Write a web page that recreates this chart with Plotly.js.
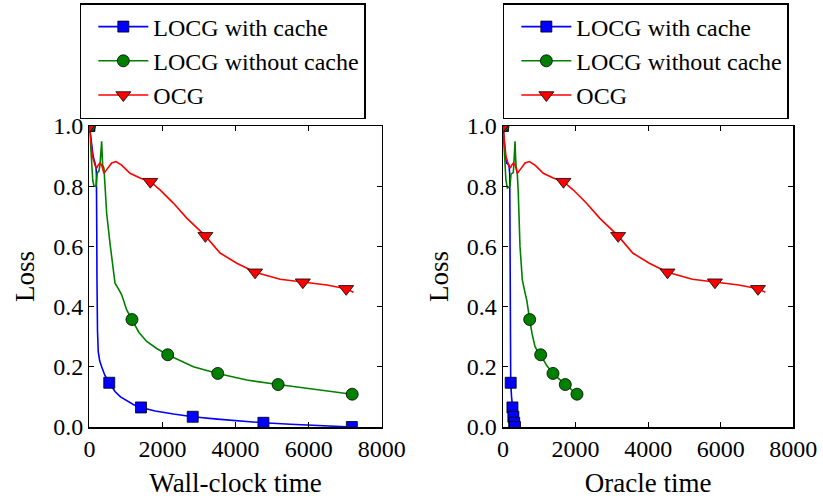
<!DOCTYPE html>
<html>
<head>
<meta charset="utf-8">
<script src="https://cdn.plot.ly/plotly-3.0.1.min.js"></script>
<style>html,body{margin:0;padding:0;background:#fff;}#chart{width:823px;height:500px;}</style>
</head>
<body>
<div id="chart"></div>
<script>
// ---- series names ----
var seriesNames = ['LOCG with cache', 'LOCG without cache', 'OCG'];

// ---- left panel: Wall-clock time ----
var cacheWallX = [0, 60, 100, 150, 180, 190, 195, 200, 205, 210, 220, 241, 280, 334, 420, 542, 700, 850, 1000, 1200, 1411, 1800, 2300, 2827, 3500, 4200, 4762, 5500, 6300, 7183];
var cacheWallY = [1.0, 0.95, 0.90, 0.877, 0.86, 0.84, 0.80, 0.65, 0.50, 0.40, 0.32, 0.25, 0.22, 0.20, 0.172, 0.147, 0.118, 0.10, 0.088, 0.075, 0.065, 0.053, 0.043, 0.034, 0.026, 0.019, 0.014, 0.009, 0.004, 0.0];
var cacheWallMarkX = [0, 542, 1411, 2827, 4762, 7183];
var cacheWallMarkY = [1.0, 0.147, 0.065, 0.034, 0.014, 0.0];

var nocacheWallX = [0, 50, 90, 123, 178, 214, 260, 288, 310, 334, 350, 361, 397, 425, 471, 562, 652, 699, 790, 882, 1019, 1164, 1350, 1567, 1850, 2142, 2500, 2844, 3512, 4307, 5164, 6132, 7192];
var nocacheWallY = [1.0, 0.90, 0.82, 0.80, 0.80, 0.844, 0.85, 0.871, 0.90, 0.949, 0.90, 0.87, 0.86, 0.80, 0.71, 0.61, 0.51, 0.478, 0.46, 0.439, 0.389, 0.357, 0.315, 0.284, 0.26, 0.24, 0.22, 0.20, 0.178, 0.156, 0.141, 0.125, 0.109];
var nocacheWallMarkX = [0, 1164, 2142, 3512, 5164, 7192];
var nocacheWallMarkY = [1.0, 0.357, 0.240, 0.178, 0.141, 0.109];

// ---- OCG (same curve in both panels) ----
var ocgX = [0, 40, 80, 150, 197, 240, 288, 334, 397, 471, 540, 608, 726, 882, 1110, 1384, 1666, 1932, 2296, 2663, 3173, 3575, 4033, 4534, 5219, 5841, 6499, 7027, 7228];
var ocgY = [1.0, 0.95, 0.90, 0.871, 0.86, 0.87, 0.877, 0.87, 0.843, 0.855, 0.868, 0.877, 0.882, 0.87, 0.843, 0.827, 0.815, 0.788, 0.744, 0.694, 0.635, 0.578, 0.544, 0.514, 0.491, 0.481, 0.472, 0.459, 0.448];
var ocgMarkX = [0, 1666, 3173, 4534, 5841, 7027];
var ocgMarkY = [1.0, 0.815, 0.635, 0.514, 0.481, 0.459];

// ---- right panel: Oracle time ----
var cacheOracleX = [0, 55, 100, 165, 185, 190, 195, 200, 205, 212, 235, 260, 285, 308, 330];
var cacheOracleY = [1.0, 0.91, 0.877, 0.87, 0.84, 0.70, 0.50, 0.35, 0.22, 0.147, 0.10, 0.065, 0.034, 0.014, 0.0];
var cacheOracleMarkX = [0, 212, 260, 285, 308, 330];
var cacheOracleMarkY = [1.0, 0.147, 0.065, 0.034, 0.014, 0.0];

var nocacheOracleX = [0, 45, 80, 119, 193, 220, 284, 310, 331, 345, 358, 394, 420, 468, 532, 600, 653, 735, 800, 882, 960, 1038, 1200, 1377, 1550, 1716, 1880, 2039];
var nocacheOracleY = [1.0, 0.90, 0.82, 0.794, 0.80, 0.84, 0.845, 0.90, 0.949, 0.90, 0.87, 0.84, 0.78, 0.60, 0.489, 0.45, 0.422, 0.357, 0.31, 0.267, 0.25, 0.24, 0.205, 0.178, 0.158, 0.141, 0.125, 0.109];
var nocacheOracleMarkX = [0, 735, 1038, 1377, 1716, 2039];
var nocacheOracleMarkY = [1.0, 0.357, 0.240, 0.178, 0.141, 0.109];

// ---- axis labels / ticks ----
var xTickVals = [0, 2000, 4000, 6000, 8000];
var yTickVals = [0, 0.2, 0.4, 0.6, 0.8, 1.0];
var xTitles = ['Wall-clock time', 'Oracle time'];
var yTitle = 'Loss';

// ---- styles ----
var colors = ['#0000ff', '#008000', '#ff0000'];
var symbols = ['square', 'circle', 'triangle-down'];
var msizes = [11, 12, 13];
var FONT = '"Liberation Serif", "DejaVu Serif", serif';

function lineTrace(x, y, i, xa, ya) {
  return {x: x, y: y, mode: 'lines', xaxis: xa, yaxis: ya, showlegend: false, hoverinfo: 'skip',
    line: {color: colors[i], width: 1.6}};
}
function markTrace(x, y, i, xa, ya) {
  return {x: x, y: y, mode: 'markers', xaxis: xa, yaxis: ya, showlegend: false,
    marker: {color: colors[i], symbol: symbols[i], size: msizes[i], line: {color: '#000', width: 0.8}}};
}
function legTrace(i, xa, ya, lg) {
  return {x: [null], y: [null], mode: 'lines+markers', xaxis: xa, yaxis: ya, name: seriesNames[i], legend: lg,
    line: {color: colors[i], width: 1.6},
    marker: {color: colors[i], symbol: symbols[i], size: msizes[i], line: {color: '#000', width: 0.8}}};
}

var data = [
  lineTrace(cacheWallX, cacheWallY, 0, 'x', 'y'), markTrace(cacheWallMarkX, cacheWallMarkY, 0, 'x', 'y'),
  lineTrace(nocacheWallX, nocacheWallY, 1, 'x', 'y'), markTrace(nocacheWallMarkX, nocacheWallMarkY, 1, 'x', 'y'),
  lineTrace(ocgX, ocgY, 2, 'x', 'y'), markTrace(ocgMarkX, ocgMarkY, 2, 'x', 'y'),
  lineTrace(cacheOracleX, cacheOracleY, 0, 'x2', 'y2'), markTrace(cacheOracleMarkX, cacheOracleMarkY, 0, 'x2', 'y2'),
  lineTrace(nocacheOracleX, nocacheOracleY, 1, 'x2', 'y2'), markTrace(nocacheOracleMarkX, nocacheOracleMarkY, 1, 'x2', 'y2'),
  lineTrace(ocgX, ocgY, 2, 'x2', 'y2'), markTrace(ocgMarkX, ocgMarkY, 2, 'x2', 'y2'),
  legTrace(0, 'x', 'y', 'legend'), legTrace(1, 'x', 'y', 'legend'), legTrace(2, 'x', 'y', 'legend'),
  legTrace(0, 'x2', 'y2', 'legend2'), legTrace(1, 'x2', 'y2', 'legend2'), legTrace(2, 'x2', 'y2', 'legend2')
];

function xAxis(dom, title, anchor) {
  return {domain: dom, anchor: anchor, range: [0, 8000], tickvals: xTickVals, ticks: 'inside', ticklen: 5,
    tickwidth: 1, tickcolor: '#000', showline: true, linecolor: '#000', linewidth: 1.5, mirror: 'ticks',
    showgrid: false, zeroline: false, automargin: false, tickfont: {family: FONT, size: 24, color: '#000'},
    title: {text: title, font: {family: FONT, size: 27, color: '#000'}, standoff: 12}};
}
function yAxis(dom, anchor) {
  return {domain: dom, anchor: anchor, range: [0, 1], tickvals: yTickVals, tickformat: '.1f', ticks: 'inside', ticklen: 5,
    tickwidth: 1, tickcolor: '#000', showline: true, linecolor: '#000', linewidth: 1.5, mirror: 'ticks',
    showgrid: false, zeroline: false, automargin: false, tickfont: {family: FONT, size: 24, color: '#000'},
    title: {text: yTitle, font: {family: FONT, size: 27, color: '#000'}, standoff: 10}};
}

var legStyle = function (x) {
  return {x: x, y: 0.994, xanchor: 'left', yanchor: 'top', bgcolor: '#fff', bordercolor: '#000', borderwidth: 1.5,
    font: {family: FONT, size: 24, color: '#000'}, traceorder: 'normal', tracegroupgap: 0,
    itemwidth: 50, indentation: 12};
};

var layout = {
  width: 823, height: 500, margin: {l: 0, r: 0, t: 0, b: 0},
  paper_bgcolor: '#fff', plot_bgcolor: '#fff', showlegend: true,
  font: {family: FONT, color: '#000'},
  xaxis: xAxis([0.1087, 0.4638], xTitles[0], 'y'),
  yaxis: yAxis([0.146, 0.748], 'x'),
  xaxis2: xAxis([0.6112, 0.9639], xTitles[1], 'y2'),
  yaxis2: yAxis([0.146, 0.748], 'x2'),
  legend: legStyle(0.097),
  legend2: legStyle(0.611)
};

Plotly.newPlot('chart', data, layout, {displayModeBar: false, staticPlot: true});
</script>
</body>
</html>
